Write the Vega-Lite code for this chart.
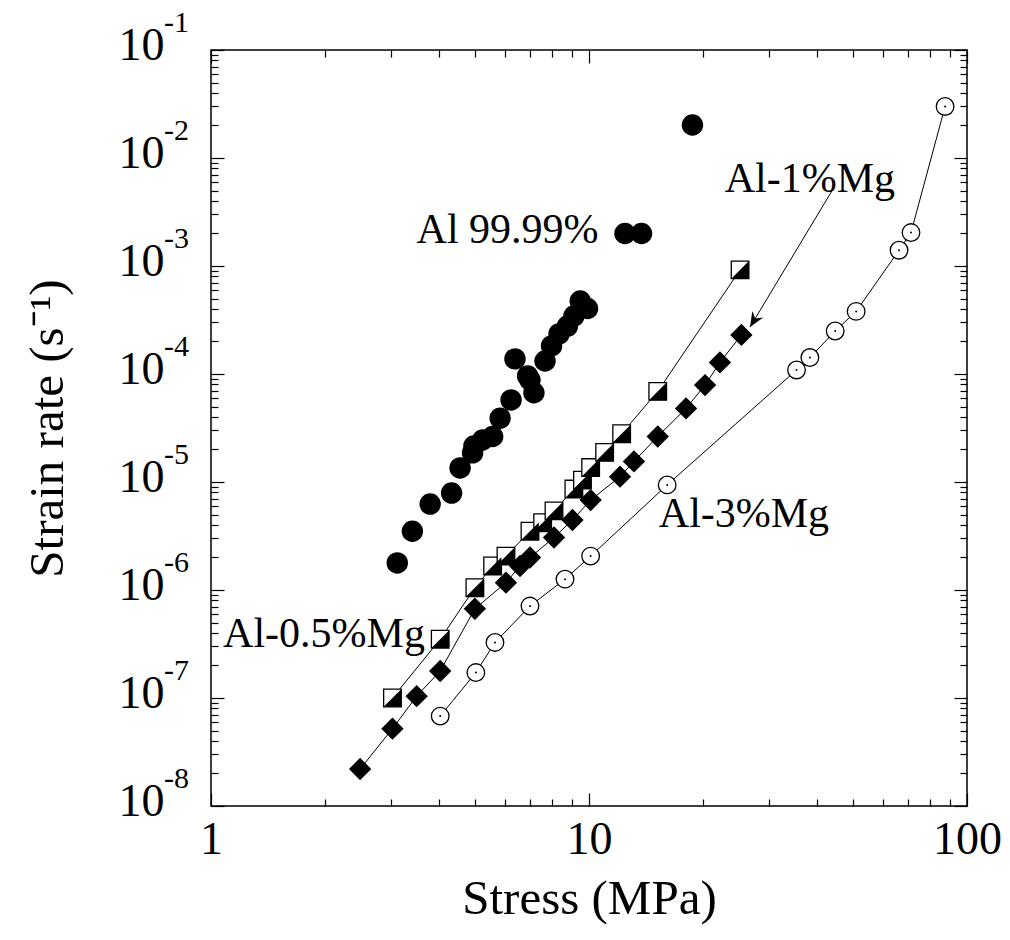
{
  "$schema": "https://vega.github.io/schema/vega-lite/v6.json",
  "width": 756,
  "height": 756,
  "autosize": {"type": "none"},
  "padding": {"left": 211, "top": 50, "right": 43, "bottom": 134},
  "background": "white",
  "config": {
    "view": {"stroke": "black", "strokeWidth": 1.5},
    "axis": {"grid": false, "domain": false, "tickColor": "black", "tickWidth": 1.2, "labelColor": "black", "titleColor": "black", "labelFont": "Liberation Serif", "titleFont": "Liberation Serif"},
    "text": {"font": "Liberation Serif", "color": "black"}
  },
  "datasets": {
    "pts": [
      {"s": "Al", "x": 3.11, "y": 1.78e-6},
      {"s": "Al", "x": 3.41, "y": 3.5e-6},
      {"s": "Al", "x": 3.80, "y": 6.25e-6},
      {"s": "Al", "x": 4.33, "y": 7.9e-6},
      {"s": "Al", "x": 4.56, "y": 1.35e-5},
      {"s": "Al", "x": 4.92, "y": 1.86e-5},
      {"s": "Al", "x": 4.96, "y": 2.15e-5},
      {"s": "Al", "x": 5.23, "y": 2.45e-5},
      {"s": "Al", "x": 5.56, "y": 2.64e-5},
      {"s": "Al", "x": 5.82, "y": 3.9e-5},
      {"s": "Al", "x": 6.22, "y": 5.75e-5},
      {"s": "Al", "x": 6.37, "y": 1.38e-4},
      {"s": "Al", "x": 6.88, "y": 9.6e-5},
      {"s": "Al", "x": 6.98, "y": 8.8e-5},
      {"s": "Al", "x": 7.15, "y": 6.7e-5},
      {"s": "Al", "x": 7.65, "y": 1.32e-4},
      {"s": "Al", "x": 7.96, "y": 1.82e-4},
      {"s": "Al", "x": 8.33, "y": 2.35e-4},
      {"s": "Al", "x": 8.77, "y": 2.78e-4},
      {"s": "Al", "x": 9.12, "y": 3.44e-4},
      {"s": "Al", "x": 9.48, "y": 4.74e-4},
      {"s": "Al", "x": 9.91, "y": 4.04e-4},
      {"s": "Al", "x": 12.45, "y": 2.0e-3},
      {"s": "Al", "x": 13.77, "y": 2.0e-3},
      {"s": "Al", "x": 18.78, "y": 2.02e-2},
      {"s": "Mg05", "x": 3.02, "y": 1.0e-7},
      {"s": "Mg05", "x": 4.04, "y": 3.5e-7},
      {"s": "Mg05", "x": 4.99, "y": 1.05e-6},
      {"s": "Mg05", "x": 5.56, "y": 1.67e-6},
      {"s": "Mg05", "x": 6.03, "y": 2.06e-6},
      {"s": "Mg05", "x": 6.98, "y": 3.5e-6},
      {"s": "Mg05", "x": 7.54, "y": 4.2e-6},
      {"s": "Mg05", "x": 8.08, "y": 5.4e-6},
      {"s": "Mg05", "x": 9.12, "y": 8.6e-6},
      {"s": "Mg05", "x": 9.61, "y": 1.04e-5},
      {"s": "Mg05", "x": 10.1, "y": 1.36e-5},
      {"s": "Mg05", "x": 11.0, "y": 1.88e-5},
      {"s": "Mg05", "x": 12.2, "y": 2.8e-5},
      {"s": "Mg05", "x": 15.2, "y": 6.9e-5},
      {"s": "Mg05", "x": 25.1, "y": 9.2e-4},
      {"s": "Mg1", "x": 2.48, "y": 2.2e-8},
      {"s": "Mg1", "x": 3.02, "y": 5.2e-8},
      {"s": "Mg1", "x": 3.50, "y": 1.04e-7},
      {"s": "Mg1", "x": 4.04, "y": 1.78e-7},
      {"s": "Mg1", "x": 4.99, "y": 6.7e-7},
      {"s": "Mg1", "x": 6.03, "y": 1.17e-6},
      {"s": "Mg1", "x": 6.57, "y": 1.67e-6},
      {"s": "Mg1", "x": 6.98, "y": 2.0e-6},
      {"s": "Mg1", "x": 8.08, "y": 3.06e-6},
      {"s": "Mg1", "x": 9.04, "y": 4.45e-6},
      {"s": "Mg1", "x": 10.1, "y": 6.8e-6},
      {"s": "Mg1", "x": 12.08, "y": 1.12e-5},
      {"s": "Mg1", "x": 13.15, "y": 1.55e-5},
      {"s": "Mg1", "x": 15.2, "y": 2.64e-5},
      {"s": "Mg1", "x": 18.06, "y": 4.8e-5},
      {"s": "Mg1", "x": 20.28, "y": 7.9e-5},
      {"s": "Mg1", "x": 22.2, "y": 1.28e-4},
      {"s": "Mg1", "x": 25.3, "y": 2.3e-4},
      {"s": "Mg3", "x": 4.04, "y": 6.8e-8},
      {"s": "Mg3", "x": 5.02, "y": 1.72e-7},
      {"s": "Mg3", "x": 5.64, "y": 3.27e-7},
      {"s": "Mg3", "x": 6.98, "y": 7.1e-7},
      {"s": "Mg3", "x": 8.64, "y": 1.26e-6},
      {"s": "Mg3", "x": 10.1, "y": 2.06e-6},
      {"s": "Mg3", "x": 16.1, "y": 9.4e-6},
      {"s": "Mg3", "x": 35.4, "y": 1.09e-4},
      {"s": "Mg3", "x": 38.4, "y": 1.42e-4},
      {"s": "Mg3", "x": 44.8, "y": 2.5e-4},
      {"s": "Mg3", "x": 50.9, "y": 3.8e-4},
      {"s": "Mg3", "x": 66.1, "y": 1.4e-3},
      {"s": "Mg3", "x": 71.1, "y": 2.04e-3},
      {"s": "Mg3", "x": 87.5, "y": 3.0e-2}
    ],
    "arrow": [
      {"x1": 44.07, "y1": 5.06e-3, "x2": 26.67, "y2": 2.72e-4}
    ],
    "labels": [
      {"x": 6.09, "y": 1.63e-3, "t": "Al 99.99%"},
      {"x": 38.4, "y": 4.84e-3, "t": "Al-1%Mg"},
      {"x": 25.7, "y": 3.83e-6, "t": "Al-3%Mg"},
      {"x": 1.99, "y": 2.97e-7, "t": "Al-0.5%Mg"}
    ],
    "exps": [
      {"y": 1e-1, "t": "-1"},
      {"y": 1e-2, "t": "-2"},
      {"y": 1e-3, "t": "-3"},
      {"y": 1e-4, "t": "-4"},
      {"y": 1e-5, "t": "-5"},
      {"y": 1e-6, "t": "-6"},
      {"y": 1e-7, "t": "-7"},
      {"y": 1e-8, "t": "-8"}
    ]
  },
  "resolve": {"axis": {"x": "independent", "y": "independent"}},
  "layer": [
    {
      "data": {"name": "pts"},
      "transform": [{"filter": "datum.s != 'Al'"}],
      "mark": {"type": "line", "color": "black", "strokeWidth": 1},
      "encoding": {
        "x": {"field": "x", "type": "quantitative", "scale": {"type": "log", "domain": [1, 100], "nice": false},
          "axis": {"orient": "bottom", "values": [1, 10, 100], "ticks": false, "labelExpr": "format(datum.value,'d')", "labelFontSize": 46, "labelBaseline": "alphabetic", "labelPadding": 47, "labelFlush": false, "labelOverlap": false, "title": "Stress (MPa)", "titleFontSize": 49, "titleFontWeight": "normal", "titleBaseline": "alphabetic", "titleY": 107}},
        "y": {"field": "y", "type": "quantitative", "scale": {"type": "log", "domain": [1e-8, 0.1], "nice": false},
          "axis": {"orient": "left", "values": [1e-8, 1e-7, 1e-6, 1e-5, 1e-4, 1e-3, 1e-2, 1e-1], "ticks": false, "labelExpr": "'10'", "labelFontSize": 46, "labelBaseline": "alphabetic", "labelOffset": 9, "labelPadding": 47, "labelFlush": false, "labelOverlap": false, "title": "Strain rate (s⁻¹)", "titleFontSize": 49, "titleFontWeight": "normal", "titleBaseline": "alphabetic", "titleX": -149}},
        "detail": {"field": "s"}
      }
    },
    {
      "data": {"name": "pts"},
      "transform": [{"filter": "datum.s == 'Al'"}],
      "mark": {"type": "point", "shape": "circle", "filled": true, "color": "black", "opacity": 1, "size": 460},
      "encoding": {
        "x": {"field": "x", "type": "quantitative", "scale": {"type": "log", "domain": [1, 100], "nice": false},
          "axis": {"orient": "bottom", "values": [1, 10, 100], "labels": false, "tickSize": -13, "title": null}},
        "y": {"field": "y", "type": "quantitative", "scale": {"type": "log", "domain": [1e-8, 0.1], "nice": false},
          "axis": {"orient": "left", "values": [1e-8, 1e-7, 1e-6, 1e-5, 1e-4, 1e-3, 1e-2, 1e-1], "labels": false, "tickSize": -13, "title": null}}
      }
    },
    {
      "data": {"name": "pts"},
      "transform": [{"filter": "datum.s == 'Mg05'"}],
      "mark": {"type": "point", "shape": "square", "fill": "white", "stroke": "black", "strokeWidth": 1.3, "opacity": 1, "size": 310},
      "encoding": {
        "x": {"field": "x", "type": "quantitative", "scale": {"type": "log", "domain": [1, 100], "nice": false},
          "axis": {"orient": "bottom", "values": [2, 3, 4, 5, 6, 7, 8, 9, 20, 30, 40, 50, 60, 70, 80, 90], "labels": false, "tickSize": -7, "title": null}},
        "y": {"field": "y", "type": "quantitative", "scale": {"type": "log", "domain": [1e-8, 0.1], "nice": false},
          "axis": {"orient": "left", "values": [2e-8, 3e-8, 4e-8, 5e-8, 6e-8, 7e-8, 8e-8, 9e-8, 2e-7, 3e-7, 4e-7, 5e-7, 6e-7, 7e-7, 8e-7, 9e-7, 2e-6, 3e-6, 4e-6, 5e-6, 6e-6, 7e-6, 8e-6, 9e-6, 2e-5, 3e-5, 4e-5, 5e-5, 6e-5, 7e-5, 8e-5, 9e-5, 2e-4, 3e-4, 4e-4, 5e-4, 6e-4, 7e-4, 8e-4, 9e-4, 2e-3, 3e-3, 4e-3, 5e-3, 6e-3, 7e-3, 8e-3, 9e-3, 2e-2, 3e-2, 4e-2, 5e-2, 6e-2, 7e-2, 8e-2, 9e-2], "labels": false, "tickSize": -7, "title": null}}
      }
    },
    {
      "data": {"name": "pts"},
      "transform": [{"filter": "datum.s == 'Mg05'"}],
      "mark": {"type": "point", "shape": "M1,-1L1,1L-1,1Z", "fill": "black", "strokeWidth": 0, "opacity": 1, "size": 310},
      "encoding": {
        "x": {"field": "x", "type": "quantitative", "scale": {"type": "log", "domain": [1, 100], "nice": false},
          "axis": {"orient": "top", "values": [1, 10, 100], "labels": false, "tickSize": -13, "title": null}},
        "y": {"field": "y", "type": "quantitative", "scale": {"type": "log", "domain": [1e-8, 0.1], "nice": false},
          "axis": {"orient": "right", "values": [1e-8, 1e-7, 1e-6, 1e-5, 1e-4, 1e-3, 1e-2, 1e-1], "labels": false, "tickSize": -13, "title": null}}
      }
    },
    {
      "data": {"name": "pts"},
      "transform": [{"filter": "datum.s == 'Mg1'"}],
      "mark": {"type": "point", "shape": "diamond", "filled": true, "color": "black", "opacity": 1, "size": 500},
      "encoding": {
        "x": {"field": "x", "type": "quantitative", "scale": {"type": "log", "domain": [1, 100], "nice": false},
          "axis": {"orient": "top", "values": [2, 3, 4, 5, 6, 7, 8, 9, 20, 30, 40, 50, 60, 70, 80, 90], "labels": false, "tickSize": -7, "title": null}},
        "y": {"field": "y", "type": "quantitative", "scale": {"type": "log", "domain": [1e-8, 0.1], "nice": false},
          "axis": {"orient": "right", "values": [2e-8, 3e-8, 4e-8, 5e-8, 6e-8, 7e-8, 8e-8, 9e-8, 2e-7, 3e-7, 4e-7, 5e-7, 6e-7, 7e-7, 8e-7, 9e-7, 2e-6, 3e-6, 4e-6, 5e-6, 6e-6, 7e-6, 8e-6, 9e-6, 2e-5, 3e-5, 4e-5, 5e-5, 6e-5, 7e-5, 8e-5, 9e-5, 2e-4, 3e-4, 4e-4, 5e-4, 6e-4, 7e-4, 8e-4, 9e-4, 2e-3, 3e-3, 4e-3, 5e-3, 6e-3, 7e-3, 8e-3, 9e-3, 2e-2, 3e-2, 4e-2, 5e-2, 6e-2, 7e-2, 8e-2, 9e-2], "labels": false, "tickSize": -7, "title": null}}
      }
    },
    {
      "data": {"name": "pts"},
      "transform": [{"filter": "datum.s == 'Mg3'"}],
      "mark": {"type": "point", "shape": "circle", "fill": "white", "stroke": "black", "strokeWidth": 1.3, "opacity": 1, "size": 310},
      "encoding": {
        "x": {"field": "x", "type": "quantitative", "scale": {"type": "log", "domain": [1, 100], "nice": false}, "axis": null},
        "y": {"field": "y", "type": "quantitative", "scale": {"type": "log", "domain": [1e-8, 0.1], "nice": false}, "axis": null}
      }
    },
    {
      "data": {"name": "pts"},
      "transform": [{"filter": "datum.s == 'Mg3'"}],
      "mark": {"type": "point", "shape": "circle", "filled": true, "color": "black", "opacity": 1, "size": 4},
      "encoding": {
        "x": {"field": "x", "type": "quantitative", "scale": {"type": "log", "domain": [1, 100], "nice": false}, "axis": null},
        "y": {"field": "y", "type": "quantitative", "scale": {"type": "log", "domain": [1e-8, 0.1], "nice": false}, "axis": null}
      }
    },
    {
      "data": {"name": "arrow"},
      "mark": {"type": "rule", "color": "black", "strokeWidth": 1},
      "encoding": {
        "x": {"field": "x1", "type": "quantitative", "scale": {"type": "log", "domain": [1, 100], "nice": false}, "axis": null},
        "x2": {"field": "x2"},
        "y": {"field": "y1", "type": "quantitative", "scale": {"type": "log", "domain": [1e-8, 0.1], "nice": false}, "axis": null},
        "y2": {"field": "y2"}
      }
    },
    {
      "data": {"name": "arrow"},
      "mark": {"type": "point", "shape": "M0,0L-0.85,-2L0,-1.35L0.85,-2Z", "fill": "black", "strokeWidth": 0, "opacity": 1, "size": 225, "angle": 31},
      "encoding": {
        "x": {"field": "x2", "type": "quantitative", "scale": {"type": "log", "domain": [1, 100], "nice": false}, "axis": null},
        "y": {"field": "y2", "type": "quantitative", "scale": {"type": "log", "domain": [1e-8, 0.1], "nice": false}, "axis": null}
      }
    },
    {
      "data": {"name": "labels"},
      "mark": {"type": "text", "fontSize": 42, "align": "center", "baseline": "alphabetic", "font": "Liberation Serif", "color": "black"},
      "encoding": {
        "x": {"field": "x", "type": "quantitative", "scale": {"type": "log", "domain": [1, 100], "nice": false}, "axis": null},
        "y": {"field": "y", "type": "quantitative", "scale": {"type": "log", "domain": [1e-8, 0.1], "nice": false}, "axis": null},
        "text": {"field": "t"}
      }
    },
    {
      "data": {"name": "exps"},
      "mark": {"type": "text", "fontSize": 30, "align": "left", "baseline": "alphabetic", "dx": -47, "dy": -18, "font": "Liberation Serif", "color": "black"},
      "encoding": {
        "x": {"datum": 1, "type": "quantitative", "scale": {"type": "log", "domain": [1, 100], "nice": false}, "axis": null},
        "y": {"field": "y", "type": "quantitative", "scale": {"type": "log", "domain": [1e-8, 0.1], "nice": false}, "axis": null},
        "text": {"field": "t"}
      }
    }
  ]
}
